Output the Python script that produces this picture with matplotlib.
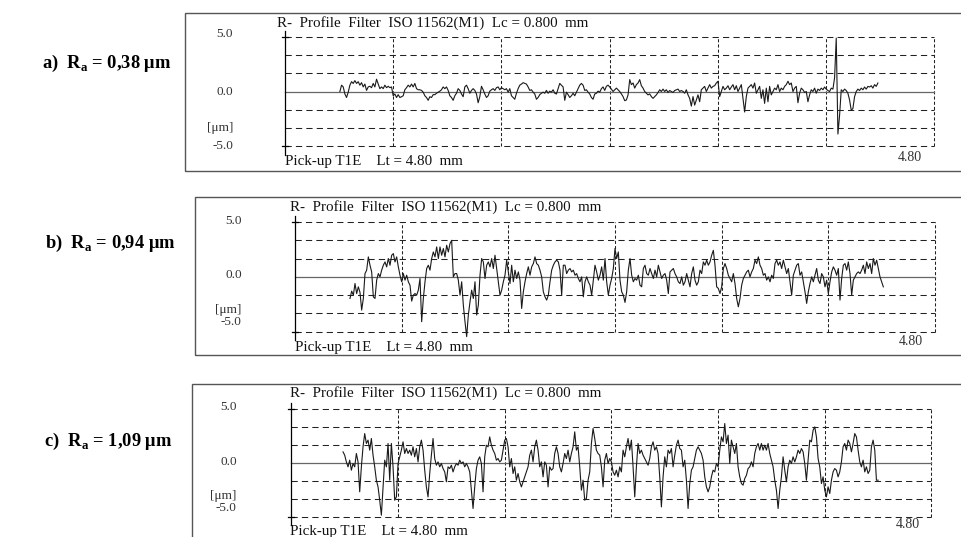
from matplotlib import pyplot as plt
from matplotlib.patches import Rectangle
import numpy as np

plt.rcParams['font.family'] = ['Liberation Serif', 'DejaVu Serif']
plt.rcParams['mathtext.fontset'] = 'custom'
plt.rcParams['mathtext.rm'] = 'Liberation Serif:bold'
plt.rcParams['mathtext.bf'] = 'Liberation Serif:bold'

# profile heights in um (evenly spaced along x)
RA_LABELS = ['0,38', '0,94', '1,09']
PANEL_NAMES = ['a)', 'b)', 'c)']

X_START = [0.406, 0.4125, 0.388]   # mm
X_END = [4.385, 4.4125, 4.401]     # mm

profile_a = [
    0.0, 0.58, 0.42, -0.23, -0.55, -0.06, 0.58, 0.9, 0.74, 1.0,
    0.74, 0.9, 0.58, 0.81, 0.42, 0.68, 0.1, 0.42, 0.48, 0.35,
    0.74, 0.42, 1.13, 0.68, 0.26, 0.42, 0.26, 0.58, 0.35, 0.48,
    0.35, 0.42, -0.39, -0.23, -0.55, -0.29, -0.55, -0.48, -0.39, 0.16,
    0.35, 0.58, 0.42, 0.68, 0.42, 0.74, 0.26, 0.16, 0.16, 0.1,
    -0.06, -0.39, -0.55, -0.81, -0.48, -0.55, -0.29, -0.29, -0.16, -0.06,
    0.03, 0.16, 0.42, 0.26, 0.42, 0.1, -0.39, -0.55, -0.81, -0.39,
    -0.16, 0.26, 0.1, -0.23, -0.48, 0.42, 0.58, 0.26, -0.16, 0.1,
    0.26, 0.1, -0.23, -1.03, -0.48, 0.48, 0.16, -0.23, -0.55, -0.39,
    0.03, 0.16, 0.26, 0.1, 0.35, 0.42, 0.16, 0.35, 0.26, 0.16,
    0.26, -0.06, 0.26, -0.39, -0.55, -0.71, -0.16, 0.26, 0.58, 0.68,
    0.81, 0.74, 0.68, 0.42, 0.1, 0.16, -0.06, -0.23, -0.71, -0.55,
    -0.29, -0.16, -0.06, -0.16, 0.1, -0.16, 0.03, -0.06, 0.16, -0.16,
    -0.23, 0.26, 0.74, 0.58, 0.42, -0.81, -0.06, -0.29, -0.55, -0.39,
    -0.16, -0.39, -0.06, 0.26, 0.58, 0.74, 0.58, 0.1, 0.16, -0.06,
    -0.23, -0.55, -0.71, -0.23, -0.16, 0.03, -0.06, 0.26, 0.42, 0.1,
    0.48, 0.58,
    0.41, 0.22, 0, 0.16, 0.31, 0.16, 0, -0.22, -0.47, -0.84,
    -0.78, -0.31, 1.09, 0.63, 0.78, 0.31, 0.63, 0.78, 1.09, 0.53,
    0.31, 0, -0.16, -0.31, -0.22, -0.47, -0.63, -0.47, -0.31, -0.09,
    0.16, 0, 0.22, 0, 0.16, -0.09, 0.09, 0, -0.09, 0.09,
    0.16, 0.22, 0, 0.09, 0, -0.16, 0.16, -0.31, -0.63, -1.34,
    -0.47, -1.25, -0.78, -0.31, -0.94, 0.16, 0.31, 0.47, 0, 0.31,
    0.63, 0.31, 0.47, 0.53, 0.78, 0.94, -0.47, 0, 0.47, 0.16,
    0.31, 0.53, 0.16, 0.41, 0.63, 0.16, 0.53, 0, 0.31, 0.63,
    -0.63, -1.88, -0.47, 0.31, 0.47, 0.63, 0.31, 0.78, -0.16, 0.16,
    0.47, -0.63, 0.16, -1.09, 0.31, -0.94, 0.47, -0.31, 0, 0.31,
    0.16, 0.63, 0, 0.31, 0.16, 0.47, 0.63, 0.94, 0.63, 0.78,
    0, 0.31, 0.47, -1.03, -0.16, 0.31, 0.16, -0.09, 0, -0.94,
    -0.31, 0.16, 0, 0.31, -0.16, 0.22, 0.09, 0.31, 0.16, 0.41,
    0.22, 0.09, 0, 0.31, 0.22, 1.25, 4.9, -3.9, -2.19, 0.16,
    0, 0.22, 0.09, -0.16, -0.78, -1.72, -1.56, -0.47, 0, 0.22,
    0.09, 0.31, 0.16, 0.41, 0.22, 0.47, 0.41, 0.53, 0.31, 0.63,
    0.47, 0.78,
]

profile_b = [
    -1.97, -1.30, -1.67, -0.61, -1.52, -0.91, -1.42, -3.03, -1.97, 0.30,
    0.61, 1.82, 1.06, 0.45, -1.82, -1.97, -0.30, 0.30, 0, 0.61,
    1.06, 1.36, 0.91, 1.67, 1.06, 1.97, 2.12, 1.36, 1.82, 0.91,
    0.15, -0.45, 0.30, -0.30, 0.15, -0.45, -0.76, -2.21, -1.67, -1.52,
    -1.67, -1.21, -0.15, -4.09, -1.97, -0.45, 0.76, 1.06, 0.61, 1.67,
    2.27, 1.82, 2.73, 1.67, 2.73, 1.97, 2.58, 1.82, 2.88, 2.27,
    3.03, 3.33, 0, 0.30, 0.30, -0.30, -1.67, -0.45, -2.58, -4.09,
    -5.45, -3.48, -2.27, -1.21, -1.97, -0.45, -3.48, -2.58, 0.15, 1.67,
    1.36, -0.15, 1.06, 1.36, 0.91, 1.67, 0.76, 1.97, 0.76, -0.45,
    -1.67, -1.21, -0.45, 0.15, 1.52, 0.45, -0.61, 1.06, -0.45, 0.61,
    -0.15, 0.45, -0.30, -2.88, -1.36, -0.45, 0.30, 0.91, 0.15, 0.91,
    1.21, 1.82, 1.21, 1.06, 0.61, 0, -1.36, -1.82, -2.12, -1.67,
    -0.45, 0.61, 1.06, 1.36, 1.52, 1.36, 0.61, -1.67, 1.06, 1.06,
    0.30, 0.61, 0.76, 0.45, 0.61, 0.15, 0.30, -0.15, -0.45, 0,
    -1.82, -0.45, 0, -0.45, -0.76, -1.67, -0.30, 1.06, 0.45, -0.30,
    0.15, 0.91, -0.30, 1.67, -0.45, -1.67, -0.76, -0.15, 0.76, 2.58,
    1.67, 2.27,
    -0.30, -1.36, -1.67, -2.33, -1.36, 0.61, 1.67, 0.15, -0.45, -0.15,
    -0.30, 0.15, -0.76, -0.91, 0.76, 1.06, 0.30, 0.15, 0.76, 0.30,
    -0.15, 0.61, 0, 1.06, 0.45, -0.15, 0.15, 0.30, -0.30, -1.52,
    0.45, 0.61, 0.76, 0.30, 0, -0.45, -0.61, 0, -0.76, -0.45,
    0.30, -0.30, -0.91, 0.30, 0.91, -0.30, -0.76, -0.45, 0.61, 0.30,
    1.36, 1.06, 1.52, 1.06, 1.36, 1.97, 2.42, 1.06, -0.91, -1.06,
    -1.52, -0.91, 0.76, 1.21, 0.76, 0.15, -0.15, -0.45, 0.30, -0.61,
    -1.97, -2.73, -1.97, -0.76, -0.15, 0.15, 0.45, 0.61, 0, 0.45,
    0.76, 1.52, 1.21, 1.82, 1.06, 0.76, 0.15, 0.30, -0.30, 0,
    -0.45, 0.15, -0.15, 1.21, 1.52, 1.06, 1.36, 0.76, 1.52, 0.91,
    0.30, 0.76, -0.45, -1.67, 0.15, 0.61, 1.06, 1.21, 0.15, 0.45,
    -0.45, -1.36, -2.42, -1.36, -0.61, 0, -0.45, 0.15, 0.76, -0.30,
    -0.61, 0.30, 0, -0.91, -0.30, -1.52, -0.45, 0.45, 0.91, 0.61,
    0.15, 0.76, -2.12, -0.15, 1.06, 1.21, 0.61, 1.36, 0.30, -1.67,
    -0.30, 0, 0.30, 0.45, 0.30, 0.61, 1.06, 0.30, 1.36, 0.76,
    1.21, 0.30, 1.67, 1.06, 1.52, 0.76, 0, -0.45, -0.91,
]

profile_c = [
    1.02, 0.71, 0.09, -0.37, 0.25, -0.68, -0.06, -0.37, 0.87, 0.09,
    -2.69, -0.37, 1.49, 2.72, 1.80, 2.11, 1.18, 2.26, 0.71, -0.37,
    -1.61, -2.23, -3.47, -4.86, -2.23, 0.25, -0.37, 1.80, -1.61, 1.80,
    -0.37, -3.47, -3.16, -0.06, 0.56, 1.18, 1.95, 0.87, 1.33, 0.87,
    1.18, 0.71, 1.49, 0.56, 1.33, 0.09, 1.49, 2.11, 1.18, -0.68,
    -2.23, -3.16, -0.99, 0.71, 2.26, 0.40, -0.22, 0.09, -0.37, -0.06,
    -0.53, -0.84, -1.76, -0.37, -0.53, -0.22, -0.84, -0.37, -0.06, -0.22,
    0.25, -0.06, 0.09, -0.37, -0.06, -0.37, -0.84, -2.54, -4.24, -2.23,
    -0.53, 0.25, 0.56, -0.06, -2.69, 0.56, 1.64, 1.49, 2.41, 1.64,
    1.18, 0.87, 0.25, 0.40, 0.09, 0.25, 1.18, 2.11, 2.26, 1.49,
    -0.37, 0.40, -0.99, -0.37, -1.61, -0.99, -1.76, -2.23, -1.76, -1.30,
    -0.84, -0.37, 0.71, 1.18, 0.09, 1.49, 2.11, 1.18, -0.37, 0.09,
    -1.30, 0.09, -0.22, -2.23, -0.37, -0.68, -0.53, 0.87, 1.49, 0.87,
    -0.37, -0.84, -0.06, 0.87, 0.40, 1.18, 0.09, 0.87, 1.49, 2.88,
    1.18, 1.49, -0.37, -2.54, -1.61, -3.47, -3.31, -1.61, -0.84, 1.80,
    3.19, 2.26, 1.18, 0.87, 0.71, -0.37, -2.23, 0.25, 0.87, -0.06,
    0.40, 0.09,
    -0.84, -1.15, -0.68, -1.30, -0.37, -0.84, 1.18, 0.56, 1.49, 2.26,
    1.18, 2.11, -0.37, -3.16, -0.37, 1.80, 0.87, 1.18, 0.71, 0.40,
    0.09, -0.22, 0.40, 1.49, 1.95, 1.18, 1.49, 0.87, -1.30, -4.09,
    -1.30, 0.56, -0.37, 1.18, 0.87, 1.33, -0.37, 0.71, 1.64, 2.11,
    1.33, 1.18, -0.37, 0.25, -1.61, -4.24, -1.92, -0.68, -0.37, 0.40,
    1.18, 1.49, 1.18, 0.87, 0.25, -1.30, -2.23, -2.69, -2.23, -1.30,
    -0.68, -0.84, -0.06, -0.37, 1.18, 2.41, 1.95, 3.65, 1.80, 2.57,
    -0.06, 2.11, 1.49, 0.87, 1.80, -0.37, -1.30, -1.92, -2.07, -1.46,
    -1.15, -0.53, -0.37, 0.09, -0.37, 0.87, 1.49, 1.80, 1.18, 1.80,
    1.18, 1.64, 1.18, 1.80, 0.87, 0.25, -0.37, -1.61, -2.54, -4.24,
    -2.54, -1.30, 0.56, -0.68, -1.76, -0.37, 0.25, -0.06, 0.56, 0.09,
    0.56, 1.18, 0.87, 1.33, 1.02, -0.06, -1.61, 0.25, 2.11, 1.95,
    3.03, 3.34, 2.41, 0.40, -0.37, -1.92, -1.30, -2.54, -3.16, -2.23,
    -2.85, -1.61, -0.84, -0.53, -0.68, -1.30, -0.84, 0.09, 1.49, 1.80,
    1.18, 2.11, 1.80, 1.02, 1.80, 2.72, 2.41, 1.18, 0.09, -0.37,
    0.25, -0.84, -0.37, -0.99, -0.68, 1.49, 2.11, 1.18, -1.61, -1.61,
]

PROFILES = [profile_a, profile_b, profile_c]

W, H = 961, 537
fig = plt.figure(figsize=(W / 100, H / 100), dpi=100)


def fx(x):
    return x / W


def fy(y):
    return 1 - y / H


# pixel layout of each panel
boxes = [(185, 13, 171), (195, 197, 355), (192, 384, 560)]
plot_px = [(285, 934, 37, 146), (295, 935, 222, 331.7), (291.3, 931.3, 409, 516.7)]
title_px = [(277, 23), (290, 206.7), (290, 393.3)]
pick_px = [(285, 161), (295, 348), (290, 532)]
end_px = [(922, 157), (923, 341.7), (920, 525)]
ylab_x = [233, 241.7, 236.7]
ylab_y = [(34, 92, 128, 146), (221, 275, 310, 322), (407, 461.7, 496, 508)]
name_px = [(42, 63), (45, 243), (44, 441)]

GRID_C = '#222222'
for i in range(3):
    bx, bt, bb = boxes[i]
    fig.add_artist(Rectangle((fx(bx), fy(bb)), fx(975 - bx), (bb - bt) / H,
                             transform=fig.transFigure, fill=False,
                             ec='#555555', lw=1.0))

    x0, x1, yt, yb = plot_px[i]
    ax = fig.add_axes([fx(x0), fy(yb), (x1 - x0) / W, (yb - yt) / H])
    ax.set_xlim(0, 4.8)
    ax.set_ylim(-5, 5)
    ax.axis('off')

    for yv in [5, 10 / 3, 5 / 3, -5 / 3, -10 / 3, -5]:
        ax.plot([0, 4.8], [yv, yv], color=GRID_C, lw=0.75,
                linestyle=(0, (6, 4)), clip_on=False)
    for xv in [0.8, 1.6, 2.4, 3.2, 4.0, 4.8]:
        ax.plot([xv, xv], [-5, 5], color=GRID_C, lw=0.75,
                linestyle=(0, (3, 2)), clip_on=False)
    ax.plot([0, 4.8], [0, 0], color='#666666', lw=0.9, clip_on=False)
    ax.plot([0, 0], [-5.8, 5.55], color='black', lw=0.9, clip_on=False)
    for yv in [5, -5]:
        ax.plot([-0.025, 0.02], [yv, yv], color='black', lw=0.9, clip_on=False)

    y = np.array(PROFILES[i])
    x = np.linspace(X_START[i], X_END[i], len(y))
    ax.plot(x, y, color='#1a1a1a', lw=0.8, clip_on=False)

    tx, ty = title_px[i]
    fig.text(fx(tx), fy(ty), 'R-  Profile  Filter  ISO 11562(M1)  Lc = 0.800  mm',
             fontsize=10.8, ha='left', va='center', color='#111111')
    px, py = pick_px[i]
    fig.text(fx(px), fy(py), 'Pick-up T1E    Lt = 4.80  mm',
             fontsize=10.8, ha='left', va='center', color='#111111')
    ex, ey = end_px[i]
    fig.text(fx(ex), fy(ey), '4.80', fontsize=10, ha='right', va='center',
             color='#333333')
    for lab, ly in zip(['5.0', '0.0', '[μm]', '-5.0'], ylab_y[i]):
        fig.text(fx(ylab_x[i]), fy(ly), lab, fontsize=9.5, ha='right',
                 va='center', color='#333333')

    nx, ny = name_px[i]
    fig.text(fx(nx), fy(ny), PANEL_NAMES[i] + '  R$_{\\mathbf{a}}$ = ' + RA_LABELS[i] + ' μm',
             fontsize=13.3, fontweight='bold', ha='left', va='center')

fig.savefig('out.png', dpi=100)
